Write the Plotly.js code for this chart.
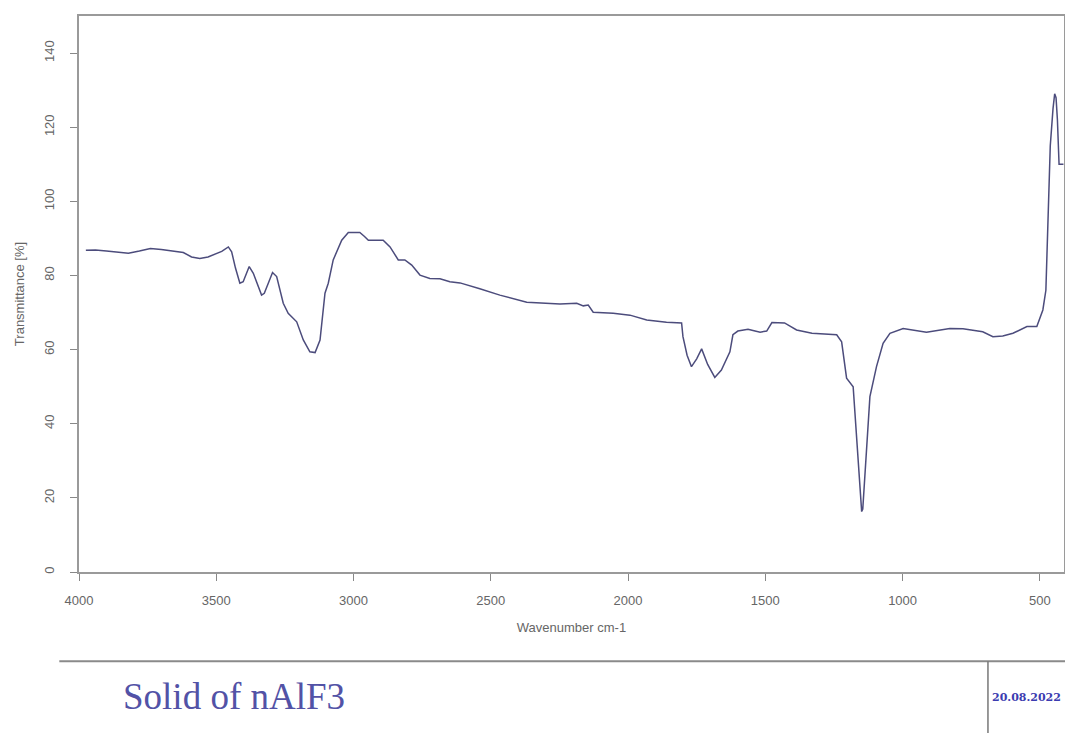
<!DOCTYPE html>
<html>
<head>
<meta charset="utf-8">
<script src="https://cdn.plot.ly/plotly-3.0.1.min.js"></script>
<style>html,body{margin:0;padding:0;background:#fff;}#chart{width:1065px;height:733px;}</style>
</head>
<body>
<div id="chart"></div>
<script>
// Wavenumber (cm-1) and transmittance (%)
const wavenumber = [3975,3940,3900,3860,3820,3780,3740,3700,3660,3620,3590,3560,3530,3511,3480,3456,3444,3430,3414,3402,3380,3365,3350,3335,3325,3310,3295,3280,3256,3238,3220,3207,3183,3159,3140,3122,3104,3092,3074,3061,3043,3019,2977,2960,2946,2892,2867,2837,2813,2788,2758,2722,2685,2649,2612,2540,2467,2369,2300,2248,2187,2163,2145,2127,2054,1993,1932,1860,1805,1800,1785,1769,1750,1732,1710,1684,1660,1629,1618,1600,1563,1519,1495,1476,1430,1386,1330,1240,1222,1204,1180,1163,1149,1145,1135,1119,1095,1071,1046,998,913,828,780,708,671,635,598,547,511,489,478,470,462,452,446,441,436,430,420,414];
const transmittance = [86.8,86.9,86.6,86.2,86.0,86.6,87.3,87.0,86.6,86.2,85.0,84.6,85.0,85.5,86.5,87.7,86.4,82.0,77.9,78.3,82.4,80.6,77.5,74.7,75.2,78.0,80.8,79.7,72.5,69.8,68.5,67.5,62.6,59.4,59.2,62.6,75.2,77.9,84.2,86.4,89.5,91.6,91.6,90.5,89.5,89.5,87.7,84.2,84.2,82.8,80.1,79.2,79.1,78.3,78.0,76.4,74.7,72.8,72.5,72.3,72.5,71.8,72.0,70.1,69.8,69.3,68.0,67.4,67.2,63.5,58.5,55.4,57.5,60.2,56.0,52.5,54.5,59.4,64.0,65.0,65.5,64.7,65.0,67.3,67.2,65.3,64.4,64.0,62.1,52.3,50.0,33.0,16.3,17.0,28.0,47.3,55.4,61.7,64.4,65.7,64.7,65.7,65.6,64.8,63.5,63.7,64.4,66.2,66.2,70.7,76.0,95.0,115.0,125.0,129.0,128.0,122.0,110.0,110.0,110.0];
const xTicks = [4000,3500,3000,2500,2000,1500,1000,500];
const yTicks = [0,20,40,60,80,100,120,140];
const sampleName = "Solid of nAlF3";
const dateText = "20.08.2022";

const axisColor = '#9a9a9a';
const tickFont = {family: 'Liberation Sans, Arial, sans-serif', size: 13, color: '#666'};

const trace = {
  x: wavenumber, y: transmittance, type: 'scatter', mode: 'lines',
  line: {color: '#4c4c7c', width: 1.5}, hoverinfo: 'skip'
};

const layout = {
  width: 1065, height: 733,
  margin: {l: 79, r: 1, t: 16, b: 161},
  paper_bgcolor: '#fff', plot_bgcolor: '#fff',
  showlegend: false,
  xaxis: {
    range: [4000, 412], tickvals: xTicks, ticktext: xTicks.map(String),
    showgrid: false, zeroline: false, showline: true, mirror: true,
    linecolor: axisColor, linewidth: 2, ticks: 'outside', ticklen: 7, tickcolor: '#888', tickwidth: 1,
    tickfont: tickFont, ticklabelstandoff: 8,
    title: {text: 'Wavenumber cm-1', font: {family: 'Liberation Sans, Arial, sans-serif', size: 13, color: '#666'}, standoff: 16}
  },
  yaxis: {
    range: [0, 150], tickvals: yTicks, ticktext: yTicks.map(String), tickangle: -90,
    showgrid: false, zeroline: false, showline: true, mirror: true,
    linecolor: axisColor, linewidth: 2, ticks: 'outside', ticklen: 7, tickcolor: '#888', tickwidth: 1,
    tickfont: tickFont, ticklabelstandoff: 11,
    title: {text: 'Transmittance [%]', font: {family: 'Liberation Sans, Arial, sans-serif', size: 13, color: '#666'}, standoff: 14}
  },
  shapes: [
    {type: 'line', xref: 'paper', yref: 'paper', x0: -0.02, x1: 1.01, y0: -0.1607, y1: -0.1607, line: {color: '#8a8a8a', width: 2}},
    {type: 'line', xref: 'paper', yref: 'paper', x0: 0.9228, x1: 0.9228, y0: -0.1607, y1: -0.30, line: {color: '#777', width: 1.5}}
  ],
  annotations: [
    {xref: 'paper', yref: 'paper', x: (121 - 79) / 985, y: (572.3 - 697) / 556.3, xanchor: 'left', yanchor: 'middle',
     text: sampleName, showarrow: false, font: {family: 'Liberation Serif, Times New Roman, serif', size: 37, color: '#5252a6'}},
    {xref: 'paper', yref: 'paper', x: (990 - 79) / 985, y: (572.3 - 698) / 556.3, xanchor: 'left', yanchor: 'middle',
     text: '<b>' + dateText + '</b>', showarrow: false, font: {family: 'DejaVu Serif, serif', size: 11, color: '#3c3cb0'}}
  ]
};

Plotly.newPlot('chart', [trace], layout, {displayModeBar: false, staticPlot: true});
</script>
</body>
</html>
